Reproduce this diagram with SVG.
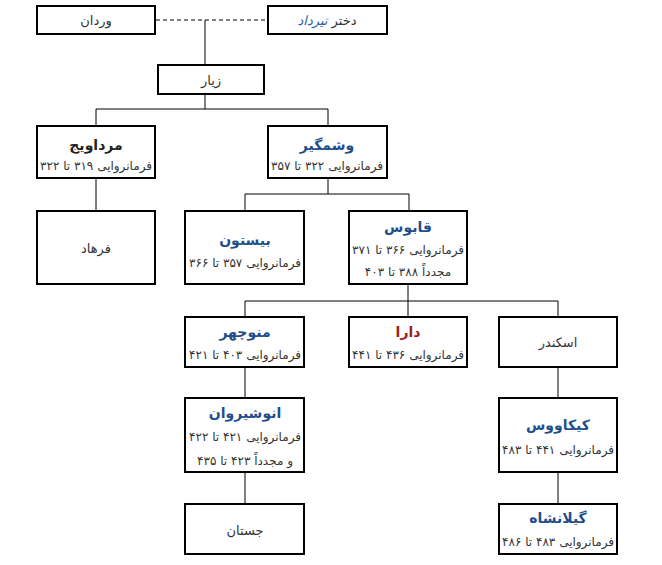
<svg xmlns="http://www.w3.org/2000/svg" width="662" height="565" viewBox="0 0 662 565">
<style>
.box{fill:#fff;stroke:#000;stroke-width:2}
.ln{stroke:#000;stroke-width:1;fill:none}
text{font-family:"DejaVu Sans","Noto Sans",sans-serif;direction:rtl;text-anchor:middle;dominant-baseline:central}
.t{font-size:14px;font-weight:bold;fill:#1f4e8c}
.tb{font-size:14px;font-weight:bold;fill:#222}
.tr{font-size:14px;font-weight:bold;fill:#a01c1c}
.s{font-size:12px;fill:#333}
.p{font-size:13px;fill:#333}
</style>
<rect width="662" height="565" fill="#fff"/>
<g id="connectors">
<line class="ln" x1="156" y1="20" x2="267" y2="20" stroke-dasharray="4,3"/>
<line class="ln" x1="205" y1="20" x2="205" y2="64"/>
<line class="ln" x1="205" y1="95" x2="205" y2="109"/>
<line class="ln" x1="96" y1="109" x2="328" y2="109"/>
<line class="ln" x1="96" y1="109" x2="96" y2="125"/>
<line class="ln" x1="328" y1="109" x2="328" y2="125"/>
<line class="ln" x1="96" y1="179" x2="96" y2="210"/>
<line class="ln" x1="328" y1="179" x2="328" y2="194"/>
<line class="ln" x1="245" y1="194" x2="409" y2="194"/>
<line class="ln" x1="245" y1="194" x2="245" y2="210"/>
<line class="ln" x1="409" y1="194" x2="409" y2="210"/>
<line class="ln" x1="408" y1="285" x2="408" y2="301"/>
<line class="ln" x1="245" y1="301" x2="558" y2="301"/>
<line class="ln" x1="245" y1="301" x2="245" y2="316"/>
<line class="ln" x1="408" y1="301" x2="408" y2="316"/>
<line class="ln" x1="558" y1="301" x2="558" y2="316"/>
<line class="ln" x1="245" y1="368" x2="245" y2="397"/>
<line class="ln" x1="245" y1="473" x2="245" y2="503"/>
<line class="ln" x1="558" y1="368" x2="558" y2="397"/>
<line class="ln" x1="558" y1="473" x2="558" y2="503"/>
</g>
<g id="vardan"><rect class="box" x="37" y="6" width="118" height="28"/><text class="p" x="96" y="20">وردان</text></g>
<g id="dokhtar-tirdad"><rect class="box" x="268" y="6" width="119" height="28"/><text class="p" x="327" y="20">دختر <tspan fill="#2a5aa0" font-style="italic">تیرداد</tspan></text></g>
<g id="ziyar"><rect class="box" x="158" y="65" width="106" height="29"/><text class="p" x="211" y="80">زیار</text></g>
<g id="mardavij"><rect class="box" x="37" y="126" width="118" height="52"/><text class="tb" x="96" y="145">مرداویج</text><text class="s" x="96" y="166">فرمانروایی ۳۱۹ تا ۳۲۲</text></g>
<g id="voshmgir"><rect class="box" x="268" y="126" width="119" height="52"/><text class="t" x="327" y="145">وشمگیر</text><text class="s" x="327" y="166">فرمانروایی ۳۲۲ تا ۳۵۷</text></g>
<g id="farhad"><rect class="box" x="37" y="211" width="118" height="73"/><text class="p" x="96" y="248">فرهاد</text></g>
<g id="bisotun"><rect class="box" x="185" y="211" width="119" height="73"/><text class="t" x="245" y="240">بیستون</text><text class="s" x="245" y="263">فرمانروایی ۳۵۷ تا ۳۶۶</text></g>
<g id="qabus"><rect class="box" x="349" y="211" width="118" height="73"/><text class="t" x="408" y="227">قابوس</text><text class="s" x="408" y="250">فرمانروایی ۳۶۶ تا ۳۷۱</text><text class="s" x="408" y="272">مجدداً ۳۸۸ تا ۴۰۳</text></g>
<g id="manuchehr"><rect class="box" x="185" y="317" width="119" height="50"/><text class="t" x="245" y="332">منوچهر</text><text class="s" x="245" y="355">فرمانروایی ۴۰۳ تا ۴۲۱</text></g>
<g id="dara"><rect class="box" x="349" y="317" width="118" height="50"/><text class="tr" x="408" y="332">دارا</text><text class="s" x="408" y="355">فرمانروایی ۴۳۶ تا ۴۴۱</text></g>
<g id="eskandar"><rect class="box" x="499" y="317" width="118" height="50"/><text class="p" x="558" y="342">اسکندر</text></g>
<g id="anushirvan"><rect class="box" x="185" y="398" width="119" height="74"/><text class="t" x="245" y="413">انوشیروان</text><text class="s" x="245" y="437">فرمانروایی ۴۲۱ تا ۴۲۲</text><text class="s" x="245" y="461">و مجدداً ۴۲۳ تا ۴۳۵</text></g>
<g id="kaykavus"><rect class="box" x="499" y="398" width="118" height="74"/><text class="t" x="558" y="425">کیکاووس</text><text class="s" x="558" y="450">فرمانروایی ۴۴۱ تا ۴۸۳</text></g>
<g id="jostan"><rect class="box" x="185" y="504" width="119" height="50"/><text class="p" x="245" y="530">جستان</text></g>
<g id="gilanshah"><rect class="box" x="499" y="504" width="118" height="50"/><text class="t" x="558" y="518">گیلانشاه</text><text class="s" x="558" y="542">فرمانروایی ۴۸۳ تا ۴۸۶</text></g>
</svg>
